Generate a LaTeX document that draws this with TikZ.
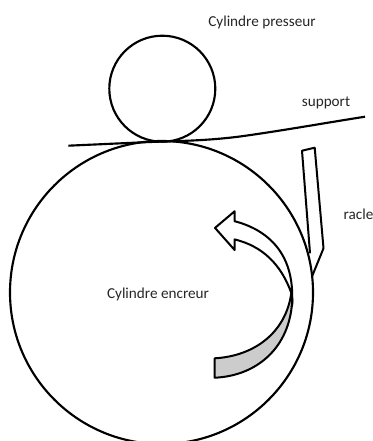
\documentclass[tikz,border=0pt]{standalone}
\usepackage{fontspec}
\setmainfont{Carlito}
\tikzset{
  inkline/.style={draw=black,line width=1.6pt,line join=round},
  thinink/.style={draw=black,line width=1.5pt,line join=round},
  lab/.style={font=\fontsize{11.4pt}{13pt}\selectfont,text=black!85,inner sep=0pt}
}
\begin{document}
\begin{tikzpicture}[x=0.75pt,y=-0.75pt]
\path[use as bounding box] (0,0) rectangle (373,441);
\begin{scope}
\clip (0,0) rectangle (373,441);
\draw[inkline] (161.5,292.5) circle [radius=151.5];
\end{scope}
\draw[inkline] (162.3,88.7) circle [radius=53];
\draw[inkline] (68.3,145.7) -- (150,142) .. controls (175,141) and (205,141) .. (240,136.5) .. controls (280,131) and (325,123) .. (365,116.7);
% gray band
\filldraw[thinink,fill=black!20] (214.7,358.3) .. controls (255,356) and (286,332) .. (291.3,293)
  .. controls (293,300) and (292.5,304) .. (291.7,306.7)
  .. controls (287,350) and (255,376) .. (214.7,377.7) -- cycle;
% arrow
\draw[thinink] (291.3,293) .. controls (281,264) and (262,246) .. (234.6,239.4)
  -- (234.6,250) -- (215,227.9) -- (234.6,211.3) -- (234.6,221.2)
  .. controls (272,231) and (296,258) .. (291.7,306.7);
% squeegee
\draw[thinink] (310,253.3) -- (302,150.7) -- (314.7,147.7) -- (323.5,248.3) -- (312,276.5);
\node[lab,anchor=center] (presseur) at (262,22) {Cylindre presseur};
\node[lab,anchor=center] (support) at (326,102.5) {support};
\node[lab,anchor=center] (racle) at (358.5,214) {racle};
\node[lab,anchor=center] (encreur) at (158,294) {Cylindre encreur};
\end{tikzpicture}
\end{document}
